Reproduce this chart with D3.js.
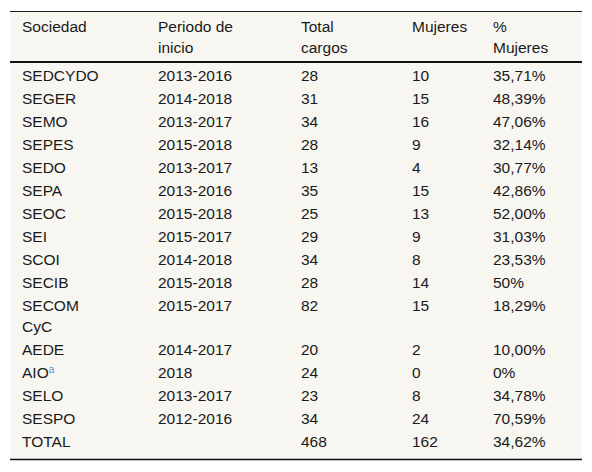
<!DOCTYPE html>
<html><head><meta charset="utf-8">
<script src="https://cdn.jsdelivr.net/npm/d3@7"></script>
<style>body{margin:0;background:#fff}text{font-family:"Liberation Sans",Arial,sans-serif;font-size:15.5px;fill:#1a1a1a}</style>
</head><body>
<script>
var headers = [["Sociedad"], ["Periodo de", "inicio"], ["Total", "cargos"], ["Mujeres"], ["%", "Mujeres"]];
var sociedades = [["SEDCYDO"], ["SEGER"], ["SEMO"], ["SEPES"], ["SEDO"], ["SEPA"], ["SEOC"], ["SEI"], ["SCOI"], ["SECIB"], ["SECOM", "CyC"], ["AEDE"], ["AIO"], ["SELO"], ["SESPO"], ["TOTAL"]];
var periodos = ["2013-2016", "2014-2018", "2013-2017", "2015-2018", "2013-2017", "2013-2016", "2015-2018", "2015-2017", "2014-2018", "2015-2018", "2015-2017", "2014-2017", "2018", "2013-2017", "2012-2016", ""];
var totalCargos = [28, 31, 34, 28, 13, 35, 25, 29, 34, 28, 82, 20, 24, 23, 34, 468];
var mujeres = [10, 15, 16, 9, 4, 15, 13, 9, 8, 14, 15, 2, 0, 8, 24, 162];
var pctMujeres = ["35,71%", "48,39%", "47,06%", "32,14%", "30,77%", "42,86%", "52,00%", "31,03%", "23,53%", "50%", "18,29%", "10,00%", "0%", "34,78%", "70,59%", "34,62%"];

var W = 592, H = 472;
var colX = [22, 158, 301, 412, 493];
var svg = d3.select("body").append("svg").attr("width", W).attr("height", H);
svg.append("rect").attr("x", 10).attr("y", 11).attr("width", 572).attr("height", 448).attr("fill", "#f8f6f1");
svg.append("line").attr("x1", 10).attr("x2", 582).attr("y1", 11.5).attr("y2", 11.5).attr("stroke", "#222").attr("stroke-width", 1);
svg.append("line").attr("x1", 10).attr("x2", 582).attr("y1", 62).attr("y2", 62).attr("stroke", "#111").attr("stroke-width", 2);
svg.append("line").attr("x1", 10).attr("x2", 582).attr("y1", 459.5).attr("y2", 459.5).attr("stroke", "#111").attr("stroke-width", 1.5);

headers.forEach(function (h, i) {
  h.forEach(function (t, j) {
    svg.append("text").attr("x", colX[i]).attr("y", 27 + j * 21).attr("dy", "0.35em").text(t);
  });
});

var y = 76;
sociedades.forEach(function (s, r) {
  var cells = [s, [periodos[r]], [String(totalCargos[r])], [String(mujeres[r])], [pctMujeres[r]]];
  cells.forEach(function (c, i) {
    c.forEach(function (t, j) {
      var tx = svg.append("text").attr("x", colX[i]).attr("y", y + j * 21).attr("dy", "0.35em").text(t);
      if (i === 0 && t === "AIO") {
        tx.append("tspan").attr("dy", "-0.5em").style("font-size", "10px").style("fill", "#3a9ad9").text("a");
      }
    });
  });
  y += 23 + (s.length - 1) * 21;
});
</script>
</body></html>
